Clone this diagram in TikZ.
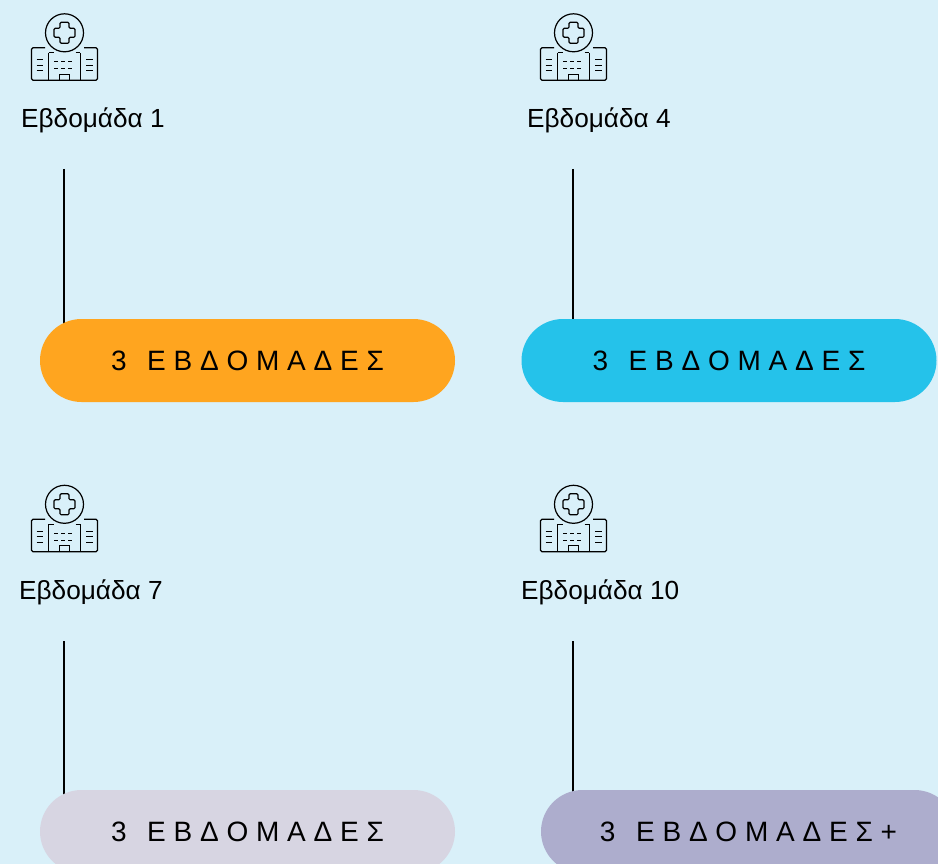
\documentclass[tikz,border=0pt]{standalone}
\usepackage{fontspec}
\setmainfont{Liberation Sans}
\usetikzlibrary{positioning,shapes.misc,backgrounds}
\definecolor{skybg}{HTML}{D9F0F9}
\definecolor{pillorange}{HTML}{FFA51F}
\definecolor{pillblue}{HTML}{25C2EA}
\definecolor{pillgrey}{HTML}{D7D5E2}
\definecolor{pillpurple}{HTML}{ADADCD}
\tikzset{
    weeklabel/.style={anchor=base west,inner sep=0pt,font=\fontsize{26.2}{30}\selectfont,text=black},
    pill/.style={rounded rectangle,minimum width=415pt,minimum height=83pt,inner sep=0pt,
        font=\fontsize{28}{30}\selectfont,text=black},
    stem/.style={draw=black,line width=1.8pt},
    hospital/.pic={
        \draw[line width=1.2pt,black] (0,0) circle (19);
        \draw[line width=1.2pt,black,rounded corners=1.2pt]
            (-4.5,-10.5) -- (4.5,-10.5) -- (4.5,-4.5) -- (10.5,-4.5) -- (10.5,4.5) -- (4.5,4.5) -- (4.5,10.5) -- (-4.5,10.5)
            -- (-4.5,4.5) -- (-10.5,4.5) -- (-10.5,-4.5) -- (-4.5,-4.5) -- cycle;
        \draw[line width=1.2pt,black,rounded corners=1.5pt] (-19.5,15) -- (-33,15) -- (-33,47.5) -- (33,47.5) -- (33,15) -- (19.5,15);
        \draw[line width=1.2pt,black] (-15.7,20) -- (-15.7,47.5) (15.7,20) -- (15.7,47.5)
            (-15.7,20) -- (-11,20) (11,20) -- (15.7,20)
            (-4.7,47.5) -- (-4.7,41.5) -- (4.7,41.5) -- (4.7,47.5);
        \draw[line width=1.2pt,black] (-28,27) -- (-21.5,27) (-28,32.5) -- (-21.5,32.5) (-28,38) -- (-21.5,38)
            (21.5,27) -- (28,27) (21.5,32.5) -- (28,32.5) (21.5,38) -- (28,38);
        \draw[line width=1pt,black,dash pattern=on 3.5pt off 3.5pt] (-10.5,29) -- (10.5,29) (-10.5,36) -- (10.5,36);
    }
}
\begin{document}
\begin{tikzpicture}[x=1pt,y=-1pt]
    \useasboundingbox (0,0) rectangle (938,864);
    \clip (0,0) rectangle (938,864);

    % Week 1
    \pic at (64.5,32.8) {hospital};
    \node[weeklabel] (weeka) at (21,127.5) {Εβδομάδα 1};
    \coordinate (topa) at (64,169);
    \node[pill,fill=pillorange] (pilla) at (247.5,360.5) {3~~\hspace{5pt}Ε Β Δ Ο Μ Α Δ Ε Σ\hspace{2pt}};

    % Week 4
    \pic at (573.5,32.8) {hospital};
    \node[weeklabel] (weekb) at (527,127.5) {Εβδομάδα 4};
    \coordinate (topb) at (573,169);
    \node[pill,fill=pillblue] (pillb) at (729,360.5) {3~~\hspace{5pt}Ε Β Δ Ο Μ Α Δ Ε Σ\hspace{2pt}};

    % Week 7
    \pic at (64.5,504.3) {hospital};
    \node[weeklabel] (weekc) at (19,599.5) {Εβδομάδα 7};
    \coordinate (topc) at (64,641);
    \node[pill,fill=pillgrey] (pillc) at (247.5,831.5) {3~~\hspace{5pt}Ε Β Δ Ο Μ Α Δ Ε Σ\hspace{2pt}};

    % Week 10
    \pic at (573.5,504.3) {hospital};
    \node[weeklabel] (weekd) at (521,599.5) {Εβδομάδα 10};
    \coordinate (topd) at (573,641);
    \node[pill,fill=pillpurple] (pilld) at (748.5,831.5) {3~~\hspace{5pt}Ε Β Δ Ο Μ Α Δ Ε Σ +};

    % Stems run behind the pills
    \begin{scope}[on background layer]
        \fill[skybg] (0,0) rectangle (938,864);
        \draw[stem] (topa) -- (topa |- pilla.center);
        \draw[stem] (topb) -- (topb |- pillb.center);
        \draw[stem] (topc) -- (topc |- pillc.center);
        \draw[stem] (topd) -- (topd |- pilld.center);
    \end{scope}
\end{tikzpicture}
\end{document}
